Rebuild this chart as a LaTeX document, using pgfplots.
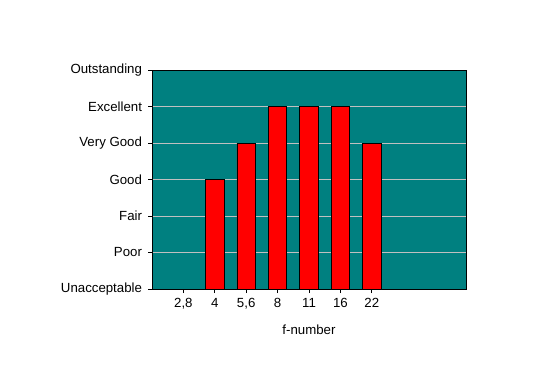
\documentclass[border=0pt]{standalone}
\usepackage{pgfplots}
\pgfplotsset{compat=1.18}
\usepackage{fontspec}
\setmainfont{Liberation Sans}
\definecolor{plotteal}{RGB}{0,128,128}
\definecolor{gridgrey}{RGB}{192,192,192}
\begin{document}
\begin{tikzpicture}[x=1bp,y=1bp]
\path[use as bounding box] (0,0) rectangle (546,385);
\begin{axis}[
 at={(152bp,96bp)}, anchor=south west,
 scale only axis, width=314bp, height=219bp,
 xmin=-1, xmax=9, ymin=0, ymax=6,
 xtick={0,...,6}, xticklabels={{2,8},4,{5,6},8,11,16,22},
 ytick={0,...,6}, yticklabels={Unacceptable,Poor,Fair,Good,Very Good,Excellent,Outstanding},
 ymajorgrids, major grid style={gridgrey, line width=0.9bp},
 tick align=outside, major tick length=4bp,
 tick style={black, line width=0.7bp},
 xtick pos=left, ytick pos=left,
 axis background/.style={fill=plotteal},
 axis line style={black, line width=0.8bp},
 ybar, bar width=0.59,
 xlabel={f-number},
 tick label style={font=\fontsize{13.3}{15}\selectfont},
 label style={font=\fontsize{13.3}{15}\selectfont},
 xticklabel style={yshift=-2bp},
 yticklabel style={xshift=-2.5bp},
 xlabel style={yshift=-9bp},
]
\addplot[fill=red, draw=black, line width=0.8bp] coordinates {(1,3) (2,4) (3,5) (4,5) (5,5) (6,4)};
\end{axis}
\end{tikzpicture}
\end{document}
